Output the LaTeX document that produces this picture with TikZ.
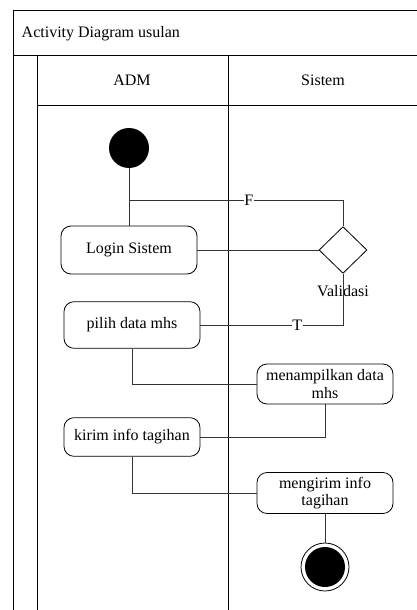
\documentclass[tikz,border=0pt]{standalone}
\usepackage{fontspec}
\setmainfont{Liberation Serif}
\usetikzlibrary{shapes.geometric}
\usetikzlibrary{positioning}

\tikzset{
  act/.style={draw,rounded corners=7.5pt,minimum width=102pt,align=center,font=\fontsize{12pt}{13pt}\selectfont,line width=0.6pt},
  flow/.style={draw=black!80,line width=0.6pt},
  guard/.style={fill=white,inner sep=0.5pt,font=\fontsize{12pt}{13pt}\selectfont},
  lbl/.style={font=\fontsize{12pt}{13pt}\selectfont},
}

\begin{document}
\begin{tikzpicture}[x=0.75pt,y=-0.75pt]
			\useasboundingbox (0,0) rectangle (417,610);
			%frame and swimlanes
			\draw[line width=0.6pt] (13,610)--(13,10)--(417,10);
			\draw[line width=0.6pt] (13,55)--(417,55);
			\draw[line width=0.6pt] (37,55)--(37,610);
			\draw[line width=0.6pt] (37,105)--(417,105);
			\draw[line width=0.6pt] (228,55)--(228,610);
			\node[lbl,anchor=west] (title) at (17,34) {Activity Diagram usulan};
			\node[lbl] (adm) at (132,80) {ADM};
			\node[lbl] (sistem) at (323,80) {Sistem};
			%start and actions
			\node[circle,fill=black,minimum size=30pt,inner sep=0pt] (start) at (129,148) {};
			\node[act,minimum height=36pt] (login) at (129,250) {Login Sistem};
			\node[diamond,draw,line width=0.6pt,minimum width=36pt,minimum height=35pt,inner sep=0pt] (valid) at (343,250) {};
			\node[lbl] (validlbl) at (343,291) {Validasi};
			\node[act,minimum height=35pt] (pilih) at (132,325) {pilih data mhs};
			\node[act,minimum height=30pt] (tampil) at (325,384) {menampilkan data\\mhs};
			\node[act,minimum height=29pt] (kirim) at (132,437) {kirim info tagihan};
			\node[act,minimum height=29pt] (kirimsis) at (325,493) {mengirim info\\tagihan};
			%end
			\node[circle,draw,line width=0.6pt,minimum size=36pt,inner sep=0pt] (stop) at (325,567) {};
			\fill (stop) circle (15pt);
			%connectors
			\coordinate (fjoin) at (129,200);
			\draw[flow] (start)--(login);
			\draw[flow] (login)--(valid);
			\draw[flow] (valid.north) |- node[guard,pos=0.72] {F} (fjoin);
			\draw[flow] (valid.south) |- node[guard,pos=0.66] {T} (pilih.east);
			\draw[flow] (pilih.south) |- (tampil.west);
			\draw[flow] (tampil.south) |- (kirim.east);
			\draw[flow] (kirim.south) |- (kirimsis.west);
			\draw[flow] (kirimsis)--(stop);
		\end{tikzpicture}
\end{document}
